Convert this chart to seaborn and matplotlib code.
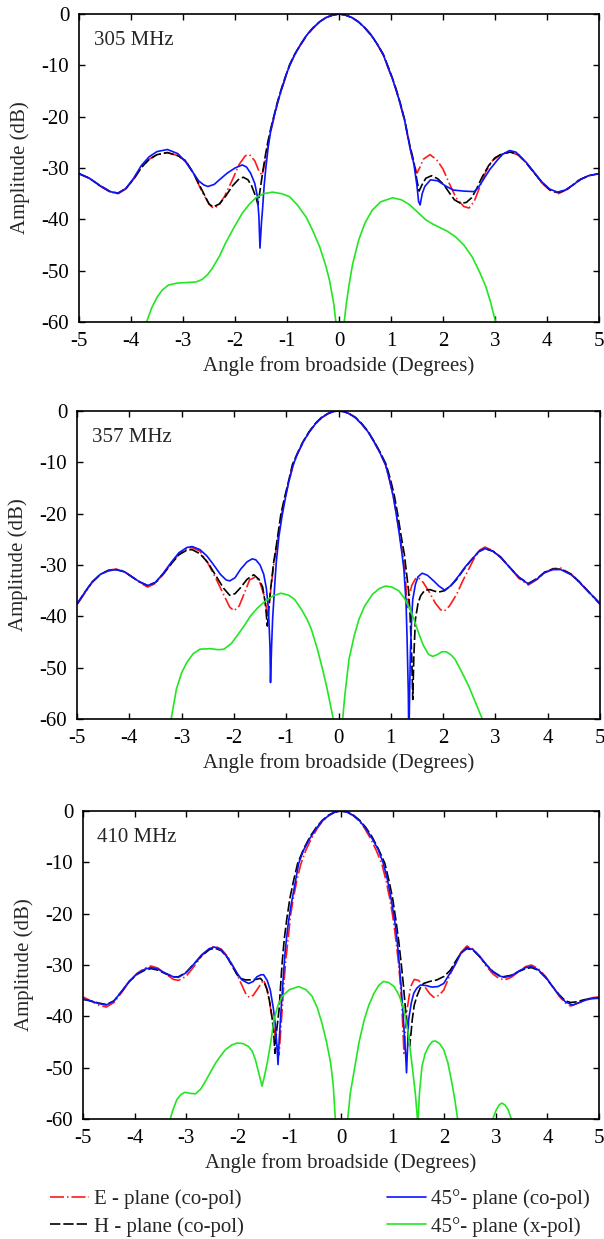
import pandas as pd
import matplotlib
matplotlib.use("Agg")
import matplotlib.pyplot as plt
import seaborn as sns

# ---- data (angle in degrees, amplitude in dB) ----
freqs = ["305 MHz", "357 MHz", "410 MHz"]
series_names = ["E - plane (co-pol)", "H - plane (co-pol)",
                "45\u00b0- plane (co-pol)", "45\u00b0- plane (x-pol)"]

# 305 MHz
e305 = [(-5.0, -31.1), (-4.8, -32.0), (-4.6, -33.5), (-4.4, -34.7), (-4.25, -35.0), (-4.1, -34.1),
        (-3.95, -32.2), (-3.8, -29.9), (-3.65, -28.3), (-3.5, -27.4), (-3.3, -27.0), (-3.1, -27.6),
        (-2.95, -28.6), (-2.8, -31.0), (-2.65, -34.3), (-2.5, -37.0), (-2.42, -37.8), (-2.32, -37.4),
        (-2.2, -35.5), (-2.05, -32.3), (-1.92, -29.3), (-1.8, -27.6), (-1.72, -27.4), (-1.62, -28.6),
        (-1.54, -30.6), (-1.48, -31.4), (-1.42, -28.8), (-1.37, -25.8), (-1.31, -22.8), (-1.25, -20.2),
        (-1.18, -17.3), (-1.1, -14.6), (-1.02, -12.1), (-0.95, -10.1), (-0.85, -7.9), (-0.75, -6.2),
        (-0.62, -4.2), (-0.5, -2.8), (-0.37, -1.5), (-0.25, -0.7), (-0.12, -0.2), (0.0, 0.0),
        (0.12, -0.2), (0.25, -0.7), (0.37, -1.5), (0.5, -2.8), (0.62, -4.2), (0.75, -6.2),
        (0.85, -8.0), (0.93, -10.1), (1.02, -12.5), (1.1, -14.9), (1.18, -17.7), (1.26, -20.7),
        (1.31, -23.2), (1.36, -25.8), (1.42, -28.6), (1.5, -31.0), (1.55, -30.0), (1.62, -28.3),
        (1.75, -27.4), (1.88, -28.4), (2.0, -30.2), (2.12, -33.0), (2.25, -35.8), (2.4, -37.5),
        (2.5, -37.8), (2.6, -36.5), (2.7, -33.9), (2.82, -30.8), (2.95, -28.6), (3.1, -27.4),
        (3.3, -26.9), (3.45, -27.5), (3.6, -29.0), (3.75, -30.9), (3.9, -32.9), (4.05, -34.3),
        (4.22, -35.0), (4.4, -34.1), (4.6, -32.4), (4.8, -31.5), (5.0, -31.1)]
h305 = [(-5.0, -31.1), (-4.8, -32.0), (-4.6, -33.4), (-4.4, -34.6), (-4.25, -34.9), (-4.1, -34.0),
        (-3.95, -32.2), (-3.8, -29.9), (-3.65, -28.3), (-3.5, -27.4), (-3.3, -27.0), (-3.1, -27.6),
        (-2.95, -28.6), (-2.8, -31.0), (-2.65, -34.0), (-2.5, -37.0), (-2.42, -37.6), (-2.3, -37.0),
        (-2.18, -35.5), (-2.05, -33.5), (-1.92, -32.1), (-1.84, -31.8), (-1.75, -32.3), (-1.68, -33.5),
        (-1.6, -35.6), (-1.56, -37.1), (-1.52, -34.5), (-1.47, -31.0), (-1.42, -27.8), (-1.37, -25.0),
        (-1.31, -22.2), (-1.25, -19.8), (-1.18, -17.0), (-1.1, -14.3), (-1.02, -11.9), (-0.95, -9.9),
        (-0.85, -7.8), (-0.75, -6.1), (-0.62, -4.1), (-0.5, -2.7), (-0.37, -1.5), (-0.25, -0.7),
        (-0.12, -0.2), (0.0, 0.0), (0.12, -0.2), (0.25, -0.7), (0.37, -1.5), (0.5, -2.7),
        (0.62, -4.1), (0.75, -6.1), (0.85, -7.8), (0.93, -9.9), (1.02, -12.3), (1.1, -14.7),
        (1.18, -17.4), (1.26, -20.5), (1.31, -23.0), (1.36, -25.5), (1.44, -28.8), (1.5, -32.5),
        (1.54, -34.5), (1.6, -33.2), (1.67, -32.0), (1.78, -31.5), (1.9, -32.1), (2.02, -33.3),
        (2.12, -34.8), (2.22, -36.2), (2.34, -36.9), (2.45, -36.7), (2.55, -35.8), (2.65, -34.0),
        (2.75, -31.8), (2.88, -29.5), (3.0, -28.0), (3.15, -27.2), (3.3, -26.9), (3.45, -27.4),
        (3.6, -29.0), (3.75, -30.9), (3.9, -32.8), (4.05, -34.2), (4.2, -34.8), (4.35, -34.4),
        (4.5, -33.3), (4.65, -32.2), (4.8, -31.5), (5.0, -31.1)]
co305 = [(-5.0, -31.1), (-4.8, -32.0), (-4.6, -33.4), (-4.4, -34.6), (-4.25, -34.9), (-4.1, -34.0),
         (-3.95, -32.0), (-3.8, -29.5), (-3.65, -27.8), (-3.5, -26.8), (-3.3, -26.4), (-3.1, -27.2),
         (-2.95, -28.8), (-2.82, -30.7), (-2.7, -32.5), (-2.6, -33.3), (-2.52, -33.6), (-2.4, -33.2),
         (-2.3, -32.3), (-2.15, -31.0), (-2.0, -30.0), (-1.86, -29.4), (-1.78, -29.8), (-1.7, -31.0),
         (-1.62, -33.0), (-1.57, -35.5), (-1.54, -39.5), (-1.52, -45.6), (-1.49, -40.5), (-1.47, -38.0),
         (-1.44, -33.5), (-1.41, -30.3), (-1.36, -25.8), (-1.31, -22.6), (-1.25, -20.0), (-1.18, -17.2),
         (-1.1, -14.5), (-1.02, -12.0), (-0.95, -10.0), (-0.85, -7.9), (-0.75, -6.1), (-0.62, -4.1),
         (-0.5, -2.7), (-0.37, -1.5), (-0.25, -0.7), (-0.12, -0.2), (0.0, 0.0), (0.12, -0.2),
         (0.25, -0.7), (0.37, -1.5), (0.5, -2.7), (0.62, -4.1), (0.75, -6.1), (0.85, -7.9),
         (0.93, -10.0), (1.02, -12.4), (1.1, -14.8), (1.18, -17.6), (1.26, -20.6), (1.31, -23.2),
         (1.36, -25.8), (1.44, -29.2), (1.5, -33.5), (1.53, -36.5), (1.56, -37.2), (1.6, -35.0),
         (1.65, -33.6), (1.76, -32.3), (1.9, -32.5), (2.05, -33.5), (2.2, -34.3), (2.4, -34.5),
         (2.6, -34.6), (2.68, -33.8), (2.78, -32.2), (2.9, -30.3), (3.05, -28.4), (3.15, -27.3),
         (3.28, -26.6), (3.4, -26.9), (3.6, -28.9), (3.75, -30.8), (3.9, -32.7), (4.05, -34.1),
         (4.2, -34.7), (4.35, -34.3), (4.5, -33.3), (4.65, -32.2), (4.8, -31.5), (5.0, -31.1)]
x305 = [(-3.75, -63.0), (-3.7, -60.0), (-3.6, -57.2), (-3.5, -55.2), (-3.4, -53.8), (-3.28, -52.8),
        (-3.1, -52.4), (-2.9, -52.3), (-2.75, -52.2), (-2.63, -51.7), (-2.53, -50.8), (-2.44, -49.6),
        (-2.3, -47.2), (-2.18, -44.6), (-2.02, -41.6), (-1.86, -38.8), (-1.72, -37.0), (-1.6, -35.8),
        (-1.45, -35.0), (-1.28, -34.7), (-1.1, -35.0), (-0.95, -35.6), (-0.8, -37.2), (-0.63, -39.6),
        (-0.5, -42.3), (-0.37, -45.4), (-0.25, -49.2), (-0.18, -52.0), (-0.1, -56.5), (-0.06, -60.0),
        (0.02, -80.0), (0.1, -60.0), (0.14, -56.5), (0.19, -53.0), (0.26, -48.8), (0.38, -44.0),
        (0.5, -40.7), (0.64, -38.2), (0.8, -36.6), (1.03, -35.8), (1.2, -36.2), (1.35, -37.1),
        (1.5, -38.5), (1.67, -40.1), (1.8, -40.9), (1.92, -41.5), (2.08, -42.3), (2.24, -43.4),
        (2.4, -45.0), (2.56, -47.3), (2.7, -50.2), (2.82, -53.0), (2.92, -56.3), (3.01, -60.0),
        (3.05, -63.0)]

# 357 MHz
e357 = [(-5.0, -37.7), (-4.85, -35.5), (-4.71, -33.4), (-4.55, -31.8), (-4.4, -31.0), (-4.25, -30.8),
        (-4.1, -31.2), (-3.95, -32.3), (-3.8, -33.4), (-3.65, -34.3), (-3.5, -33.6), (-3.35, -31.8),
        (-3.2, -29.8), (-3.05, -27.8), (-2.9, -26.8), (-2.8, -26.6), (-2.65, -27.3), (-2.5, -29.6),
        (-2.35, -32.5), (-2.2, -35.7), (-2.08, -38.2), (-2.0, -38.9), (-1.9, -38.0), (-1.8, -35.5),
        (-1.7, -32.9), (-1.58, -32.3), (-1.5, -33.5), (-1.42, -36.0), (-1.36, -39.5), (-1.33, -38.0),
        (-1.28, -33.5), (-1.24, -30.2), (-1.2, -27.5), (-1.15, -24.2), (-1.09, -20.2), (-1.03, -17.2),
        (-0.96, -14.2), (-0.87, -10.6), (-0.78, -8.3), (-0.68, -6.2), (-0.56, -4.1), (-0.44, -2.5),
        (-0.32, -1.3), (-0.2, -0.5), (-0.1, -0.1), (0.0, 0.0), (0.1, -0.1), (0.2, -0.5),
        (0.32, -1.3), (0.44, -2.5), (0.56, -4.0), (0.68, -6.0), (0.8, -8.3), (0.9, -10.5),
        (0.98, -13.6), (1.05, -16.8), (1.11, -20.2), (1.17, -24.0), (1.22, -27.5), (1.26, -30.5),
        (1.29, -34.0), (1.31, -38.3), (1.34, -36.5), (1.4, -34.0), (1.47, -32.7), (1.53, -32.5),
        (1.62, -33.4), (1.72, -35.0), (1.85, -37.4), (1.95, -38.7), (2.02, -39.0), (2.12, -38.0),
        (2.26, -35.7), (2.38, -33.0), (2.49, -30.8), (2.6, -28.6), (2.7, -27.1), (2.8, -26.5),
        (2.95, -27.2), (3.1, -28.4), (3.25, -30.2), (3.45, -32.6), (3.63, -33.9), (3.8, -32.8),
        (3.94, -31.5), (4.1, -30.7), (4.25, -30.6), (4.45, -31.8), (4.6, -33.3), (4.8, -35.5),
        (5.0, -37.7)]
h357 = [(-5.0, -37.6), (-4.85, -35.3), (-4.71, -33.3), (-4.55, -31.8), (-4.4, -31.1), (-4.25, -30.9),
        (-4.1, -31.3), (-3.95, -32.3), (-3.8, -33.3), (-3.65, -34.0), (-3.5, -33.4), (-3.35, -31.7),
        (-3.2, -29.8), (-3.05, -28.0), (-2.9, -27.1), (-2.8, -27.0), (-2.65, -27.8), (-2.5, -29.5),
        (-2.35, -32.0), (-2.2, -34.5), (-2.08, -35.9), (-1.98, -35.6), (-1.88, -34.5), (-1.75, -32.8),
        (-1.62, -31.9), (-1.52, -32.8), (-1.45, -34.3), (-1.4, -37.5), (-1.36, -41.9), (-1.32, -37.0),
        (-1.29, -34.0), (-1.24, -29.5), (-1.19, -26.3), (-1.15, -23.5), (-1.1, -20.0), (-1.03, -16.8),
        (-0.96, -13.9), (-0.88, -10.4), (-0.78, -8.1), (-0.68, -6.0), (-0.56, -4.0), (-0.44, -2.4),
        (-0.32, -1.2), (-0.2, -0.5), (-0.1, -0.1), (0.0, 0.0), (0.1, -0.1), (0.2, -0.5),
        (0.32, -1.2), (0.44, -2.4), (0.56, -3.9), (0.68, -5.9), (0.8, -8.1), (0.91, -10.4),
        (1.0, -13.6), (1.07, -16.6), (1.13, -20.0), (1.2, -24.5), (1.26, -28.0), (1.3, -31.5),
        (1.34, -35.0), (1.37, -40.0), (1.4, -48.0), (1.42, -56.2), (1.44, -48.0), (1.47, -40.6),
        (1.52, -37.5), (1.57, -36.0), (1.65, -34.9), (1.75, -34.8), (1.9, -35.3), (2.03, -35.0),
        (2.15, -34.0), (2.26, -32.8), (2.4, -30.8), (2.55, -28.9), (2.68, -27.4), (2.8, -26.8),
        (2.95, -27.3), (3.1, -28.5), (3.25, -30.2), (3.45, -32.4), (3.63, -33.6), (3.8, -32.6),
        (3.94, -31.4), (4.1, -30.8), (4.25, -30.8), (4.45, -31.8), (4.6, -33.2), (4.8, -35.4),
        (5.0, -37.5)]
co357 = [(-5.0, -37.6), (-4.85, -35.3), (-4.71, -33.3), (-4.55, -31.8), (-4.4, -31.1), (-4.25, -30.9),
         (-4.1, -31.3), (-3.95, -32.3), (-3.8, -33.3), (-3.65, -34.0), (-3.5, -33.4), (-3.35, -31.6),
         (-3.2, -29.5), (-3.05, -27.6), (-2.9, -26.6), (-2.8, -26.4), (-2.65, -27.0), (-2.52, -28.2),
         (-2.4, -29.8), (-2.26, -31.8), (-2.15, -32.9), (-2.08, -33.1), (-1.98, -32.5), (-1.87, -30.8),
         (-1.75, -29.4), (-1.65, -28.8), (-1.58, -29.0), (-1.5, -30.0), (-1.43, -31.8), (-1.38, -34.5),
         (-1.34, -38.5), (-1.31, -46.0), (-1.3, -52.9), (-1.28, -46.0), (-1.26, -40.6), (-1.22, -34.0),
         (-1.19, -29.5), (-1.14, -24.5), (-1.08, -20.5), (-1.02, -17.2), (-0.96, -14.2), (-0.87, -10.6),
         (-0.78, -8.2), (-0.68, -6.1), (-0.56, -4.1), (-0.44, -2.5), (-0.32, -1.3), (-0.2, -0.5),
         (-0.1, -0.1), (0.0, 0.0), (0.1, -0.1), (0.2, -0.5), (0.32, -1.3), (0.44, -2.5),
         (0.56, -4.0), (0.68, -6.0), (0.8, -8.3), (0.9, -10.5), (0.98, -13.6), (1.05, -16.8),
         (1.1, -19.8), (1.16, -23.8), (1.21, -27.5), (1.25, -30.8), (1.29, -37.0), (1.31, -43.8),
         (1.335, -55.0), (1.345, -65.0), (1.36, -55.0), (1.375, -47.0), (1.4, -40.0), (1.42, -36.7),
         (1.47, -33.8), (1.52, -32.3), (1.6, -31.6), (1.7, -32.0), (1.82, -33.1), (1.92, -34.1),
         (2.03, -34.9), (2.15, -34.0), (2.3, -32.1), (2.42, -30.4), (2.55, -28.9), (2.68, -27.4),
         (2.8, -26.8), (2.95, -27.3), (3.1, -28.5), (3.25, -30.2), (3.45, -32.4), (3.63, -33.7),
         (3.8, -32.7), (3.94, -31.5), (4.1, -30.9), (4.25, -30.9), (4.45, -31.9), (4.6, -33.3),
         (4.8, -35.4), (5.0, -37.5)]
x357 = [(-3.25, -63.0), (-3.2, -60.0), (-3.1, -54.2), (-3.0, -51.0), (-2.9, -49.0), (-2.78, -47.3),
        (-2.65, -46.4), (-2.45, -46.3), (-2.3, -46.5), (-2.19, -46.4), (-2.05, -45.3), (-1.94, -43.8),
        (-1.8, -41.8), (-1.68, -39.9), (-1.55, -38.4), (-1.42, -37.2), (-1.25, -36.0), (-1.1, -35.5),
        (-0.95, -35.9), (-0.84, -36.7), (-0.7, -38.8), (-0.6, -40.6), (-0.52, -42.5), (-0.4, -46.5),
        (-0.3, -50.5), (-0.22, -54.0), (-0.15, -57.5), (-0.1, -60.0), (0.0, -80.0), (0.08, -60.0),
        (0.12, -55.5), (0.2, -48.4), (0.3, -43.8), (0.39, -40.6), (0.5, -38.0), (0.65, -35.7),
        (0.78, -34.6), (0.9, -34.1), (1.02, -34.3), (1.15, -35.0), (1.25, -36.3), (1.34, -38.0),
        (1.44, -40.5), (1.53, -43.2), (1.62, -45.6), (1.72, -47.4), (1.8, -47.8), (1.88, -47.5),
        (1.98, -46.9), (2.06, -46.9), (2.15, -47.5), (2.23, -48.4), (2.35, -50.7), (2.49, -53.6),
        (2.62, -56.8), (2.75, -60.0), (2.8, -63.0)]

# 410 MHz
e410 = [(-5.0, -36.2), (-4.85, -37.0), (-4.7, -37.8), (-4.55, -38.2), (-4.4, -37.3), (-4.24, -35.2),
        (-4.1, -33.2), (-3.95, -31.6), (-3.8, -30.6), (-3.68, -30.2), (-3.55, -30.6), (-3.4, -31.7),
        (-3.25, -32.8), (-3.15, -33.0), (-3.0, -32.2), (-2.85, -30.3), (-2.7, -28.2), (-2.55, -26.8),
        (-2.45, -26.3), (-2.32, -26.9), (-2.2, -28.3), (-2.05, -31.0), (-1.95, -33.3), (-1.85, -35.5),
        (-1.78, -36.3), (-1.7, -35.9), (-1.6, -34.4), (-1.5, -32.9), (-1.44, -34.5), (-1.38, -37.5),
        (-1.3, -42.5), (-1.23, -46.5), (-1.2, -47.5), (-1.17, -43.0), (-1.14, -38.7), (-1.11, -34.0),
        (-1.07, -29.0), (-1.02, -24.5), (-0.98, -20.5), (-0.92, -16.8), (-0.85, -13.3), (-0.78, -10.4),
        (-0.68, -7.6), (-0.58, -5.5), (-0.46, -3.4), (-0.35, -1.9), (-0.24, -0.9), (-0.12, -0.2),
        (0.0, 0.0), (0.12, -0.2), (0.24, -0.9), (0.35, -1.9), (0.46, -3.4), (0.58, -5.5),
        (0.68, -7.6), (0.8, -10.6), (0.87, -13.5), (0.94, -16.8), (1.0, -20.3), (1.05, -24.0),
        (1.1, -28.3), (1.14, -32.5), (1.18, -38.0), (1.22, -47.2), (1.25, -42.5), (1.28, -38.7),
        (1.35, -34.2), (1.42, -32.8), (1.5, -33.0), (1.6, -33.9), (1.72, -35.6), (1.8, -36.3),
        (1.9, -35.9), (1.99, -34.9), (2.1, -32.2), (2.2, -30.0), (2.32, -27.6), (2.44, -26.3),
        (2.56, -26.9), (2.69, -28.4), (2.82, -30.3), (2.95, -31.8), (3.06, -32.6), (3.17, -32.9),
        (3.3, -32.4), (3.46, -31.2), (3.58, -30.3), (3.69, -30.0), (3.82, -30.7), (3.97, -32.3),
        (4.1, -34.2), (4.23, -36.1), (4.35, -37.4), (4.45, -38.0), (4.55, -37.6), (4.7, -36.9),
        (4.85, -36.4), (5.0, -36.2)]
h410 = [(-5.0, -36.7), (-4.85, -37.0), (-4.7, -37.4), (-4.55, -37.7), (-4.4, -37.0), (-4.24, -35.0),
        (-4.1, -33.2), (-3.95, -31.8), (-3.8, -31.0), (-3.68, -30.7), (-3.55, -31.0), (-3.4, -31.7),
        (-3.25, -32.3), (-3.15, -32.3), (-3.0, -31.4), (-2.85, -29.8), (-2.7, -28.2), (-2.55, -27.0),
        (-2.45, -26.7), (-2.32, -27.2), (-2.2, -28.6), (-2.11, -30.2), (-2.02, -31.8), (-1.95, -32.6),
        (-1.85, -32.9), (-1.76, -32.9), (-1.65, -32.8), (-1.56, -32.6), (-1.48, -33.6), (-1.43, -34.9),
        (-1.38, -37.3), (-1.33, -40.7), (-1.3, -44.0), (-1.28, -47.2), (-1.25, -43.0), (-1.2, -38.7),
        (-1.17, -34.0), (-1.14, -29.5), (-1.1, -25.0), (-1.05, -21.0), (-0.99, -17.0), (-0.92, -13.6),
        (-0.84, -10.2), (-0.72, -7.3), (-0.6, -5.0), (-0.48, -3.2), (-0.36, -1.8), (-0.24, -0.8),
        (-0.12, -0.2), (0.0, 0.0), (0.12, -0.2), (0.24, -0.8), (0.36, -1.8), (0.48, -3.2),
        (0.6, -5.0), (0.72, -7.3), (0.85, -10.2), (0.93, -13.6), (1.0, -17.0), (1.06, -21.0),
        (1.12, -25.5), (1.17, -30.0), (1.21, -34.0), (1.25, -38.7), (1.3, -43.0), (1.33, -45.8),
        (1.36, -43.0), (1.38, -40.7), (1.42, -37.8), (1.47, -36.1), (1.53, -34.6), (1.6, -33.6),
        (1.72, -33.2), (1.86, -32.9), (2.0, -32.2), (2.12, -31.0), (2.22, -29.3), (2.33, -27.6),
        (2.44, -26.8), (2.56, -27.1), (2.69, -28.4), (2.82, -30.0), (2.95, -31.3), (3.06, -32.0),
        (3.14, -32.3), (3.3, -32.0), (3.46, -31.2), (3.58, -30.7), (3.69, -30.5), (3.82, -31.0),
        (3.97, -32.5), (4.1, -34.2), (4.23, -35.8), (4.35, -37.0), (4.45, -37.3), (4.55, -37.2),
        (4.7, -36.8), (4.85, -36.5), (5.0, -36.5)]
co410 = [(-5.0, -36.6), (-4.85, -37.0), (-4.7, -37.5), (-4.55, -37.8), (-4.4, -37.0), (-4.24, -35.0),
         (-4.1, -33.1), (-3.95, -31.7), (-3.8, -30.8), (-3.68, -30.5), (-3.55, -30.8), (-3.4, -31.6),
         (-3.25, -32.3), (-3.15, -32.4), (-3.0, -31.5), (-2.85, -29.8), (-2.7, -28.0), (-2.55, -26.8),
         (-2.45, -26.5), (-2.32, -27.1), (-2.2, -28.5), (-2.11, -30.0), (-2.0, -31.8), (-1.92, -32.9),
         (-1.79, -33.6), (-1.7, -33.2), (-1.63, -32.3), (-1.55, -31.9), (-1.5, -31.9), (-1.43, -33.0),
         (-1.37, -34.9), (-1.31, -38.5), (-1.27, -42.0), (-1.24, -46.0), (-1.22, -49.4), (-1.2, -45.0),
         (-1.17, -40.1), (-1.12, -32.5), (-1.08, -27.1), (-1.03, -22.5), (-0.98, -19.0), (-0.91, -15.2),
         (-0.82, -10.2), (-0.72, -7.5), (-0.6, -5.3), (-0.48, -3.4), (-0.36, -1.9), (-0.24, -0.9),
         (-0.12, -0.2), (0.0, 0.0), (0.12, -0.2), (0.24, -0.9), (0.36, -1.9), (0.48, -3.4),
         (0.6, -5.3), (0.72, -7.5), (0.82, -10.2), (0.9, -13.4), (0.96, -16.5), (1.02, -20.0),
         (1.07, -23.5), (1.11, -27.5), (1.16, -33.5), (1.2, -39.0), (1.23, -44.0), (1.25, -47.0),
         (1.27, -51.0), (1.29, -46.0), (1.31, -40.7), (1.36, -37.5), (1.41, -35.5), (1.47, -34.5),
         (1.54, -33.9), (1.65, -34.0), (1.76, -34.3), (1.88, -34.2), (1.99, -33.6), (2.1, -31.8),
         (2.21, -30.0), (2.32, -27.8), (2.44, -26.6), (2.56, -27.0), (2.69, -28.3), (2.82, -30.0),
         (2.95, -31.4), (3.06, -32.1), (3.17, -32.4), (3.3, -32.1), (3.46, -31.1), (3.58, -30.5),
         (3.69, -30.3), (3.82, -30.9), (3.97, -32.4), (4.1, -34.2), (4.23, -35.9), (4.35, -37.2),
         (4.49, -37.8), (4.6, -37.4), (4.75, -36.8), (4.9, -36.5), (5.0, -36.4)]
x410 = [(-3.35, -63.0), (-3.31, -60.0), (-3.25, -58.0), (-3.18, -56.2), (-3.1, -55.2), (-3.02, -54.8),
        (-2.92, -55.0), (-2.82, -55.1), (-2.72, -54.2), (-2.63, -52.7), (-2.53, -50.9), (-2.43, -49.1),
        (-2.34, -47.8), (-2.24, -46.5), (-2.12, -45.6), (-2.01, -45.2), (-1.9, -45.3), (-1.79, -45.9),
        (-1.72, -46.8), (-1.66, -48.4), (-1.6, -50.8), (-1.53, -53.6), (-1.48, -51.5), (-1.43, -49.1),
        (-1.36, -45.0), (-1.3, -40.7), (-1.22, -37.8), (-1.14, -36.1), (-1.0, -34.8), (-0.82, -34.2),
        (-0.68, -34.8), (-0.56, -36.1), (-0.46, -38.3), (-0.37, -41.3), (-0.28, -45.0), (-0.2, -49.1),
        (-0.15, -53.5), (-0.11, -60.0), (0.0, -80.0), (0.13, -60.0), (0.18, -55.0), (0.26, -50.3),
        (0.35, -45.0), (0.45, -40.7), (0.54, -37.8), (0.64, -35.5), (0.73, -34.0), (0.82, -33.2),
        (0.92, -33.4), (1.03, -34.2), (1.13, -36.0), (1.22, -38.7), (1.3, -43.0), (1.38, -49.7),
        (1.44, -55.0), (1.49, -61.0), (1.52, -55.0), (1.57, -49.7), (1.63, -47.3), (1.7, -45.8),
        (1.77, -44.9), (1.83, -44.8), (1.91, -45.3), (1.99, -46.5), (2.07, -49.0), (2.15, -53.0),
        (2.21, -56.5), (2.26, -60.0), (2.3, -63.0), (2.6, -80.0), (2.92, -62.0), (2.94, -60.0),
        (3.01, -58.2), (3.07, -57.2), (3.12, -56.9), (3.18, -57.3), (3.24, -58.2), (3.3, -60.0),
        (3.34, -63.0)]

panels = [[e305, h305, co305, x305], [e357, h357, co357, x357], [e410, h410, co410, x410]]

colors = ["#ff1a1a", "#000000", "#0a14ff", "#22e622"]
styles = [(0, (8.4, 1.8, 0.9, 1.8)), (0, (6.2, 1.8)), "-", "-"]

sns.set_theme(style="ticks")
plt.rcParams["font.family"] = ["Liberation Serif", "DejaVu Serif"]
plt.rcParams["axes.unicode_minus"] = False
plt.rcParams["font.size"] = 15

fig = plt.figure(figsize=(6.04, 12.39), dpi=100)
W, H = 604.0, 1239.0
# axes boxes in pixels: left, right, top, bottom
boxes = [(79, 599, 14, 322), (77, 600, 411, 719), (83, 599, 811, 1119)]

for i, (l, r, t, b) in enumerate(boxes):
    ax = fig.add_axes([l / W, 1 - b / H, (r - l) / W, (b - t) / H])
    for j, pts in enumerate(panels[i]):
        df = pd.DataFrame(pts, columns=["angle", "amp"])
        sns.lineplot(data=df, x="angle", y="amp", ax=ax, sort=False, estimator=None,
                     color=colors[j], lw=1.2, linestyle=styles[j], label=series_names[j],
                     legend=False)
    ax.set_xlim(-5, 5)
    ax.set_ylim(-60, 0)
    ax.set_xticks(range(-5, 6))
    ax.set_yticks(range(-60, 1, 10))
    ax.tick_params(direction="in", top=True, right=True, length=4.5, width=1,
                   labelsize=15, colors="black")
    ax.tick_params(axis="x", pad=7)
    ax.tick_params(axis="y", pad=7)
    for s in ax.spines.values():
        s.set_linewidth(1.2)
        s.set_color("black")
    ax.set_xlabel("Angle from broadside (Degrees)", fontsize=15, labelpad=4)
    ax.set_ylabel("Amplitude (dB)", fontsize=15, labelpad=8)
    ax.text(0.028, 0.915, freqs[i], transform=ax.transAxes, fontsize=15,
            va="center", ha="left")
    last_ax = ax

handles = last_ax.get_lines()[:4]
fig.legend(handles, series_names, ncol=2, loc="upper left",
           bbox_to_anchor=(50 / W, 1 - 1189 / H), frameon=False, fontsize=15,
           borderpad=0, borderaxespad=0, handlelength=1.85, handletextpad=0.25,
           columnspacing=6.9, labelspacing=0.38)

fig.savefig("out.png", dpi=100)
